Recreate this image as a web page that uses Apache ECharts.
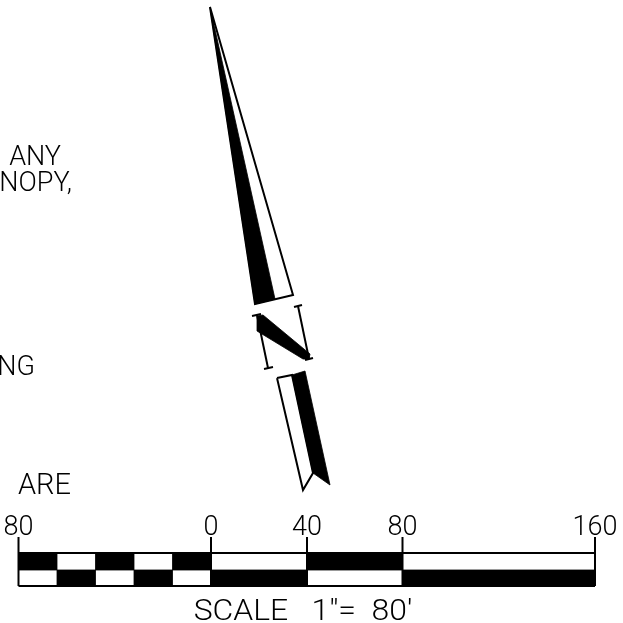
<!DOCTYPE html>
<html><head><meta charset="utf-8">
<style>html,body{margin:0;padding:0;background:#fff}#c{width:623px;height:623px}</style>
<script src="https://cdn.jsdelivr.net/npm/echarts@6/dist/echarts.min.js"></script>
</head><body><div id="c"></div>
<script>
// Drawing-space polygons and lines (x, y)
const blackShapes = [
  [[210,7],[275,299],[255,304]],
  [[292,375],[305,371],[330,485],[313,473]],
  [[257,316],[263,315],[310,354],[309,359],[303,359],[257,331]]
];
const outlines = [
  [[210,7],[293,295],[255,304],[210,7]],
  [[277,378],[292,375],[313,473],[303,490],[277,378]]
];
const thinLines = [
  [[257,315],[268,368]],[[252,316],[261,314]],[[264,369],[273,367]],
  [[298,306],[309,359]],[[294,307],[302,305]],[[305,360],[313,358]]
];
const barTop = 553, barMid = 570, barBottom = 586;
const tickTop = 537;
const scaleStops = [18.5,57,95.5,134,172.5,211,307,402.5,595];
const topRowBlack = [0,2,4,6];
const bottomRowBlack = [1,3,5,7];
const majorTicks = [18.5,211,307,402.5,595];
const tickLabels = ['80','0','40','80','160'];
const scaleTitle = 'SCALE   1"=  80\'';
const noteTexts = [
  ['ANY',61,158,'right',27],['NOPY,',72,184,'right',27],['NG',35,368,'right',27],['ARE',71,487,'right',29]
];

const segs = [];
thinLines.forEach(l=>segs.push(l));
outlines.forEach(l=>segs.push(l));
majorTicks.forEach(x=>segs.push([[x,tickTop],[x,barBottom]]));
segs.push([[18.5,barTop],[595,barTop]]);
segs.push([[18.5,barBottom],[595,barBottom]]);

const cells = [];
topRowBlack.forEach(i=>cells.push([[scaleStops[i],barTop],[scaleStops[i+1],barTop],[scaleStops[i+1],barMid],[scaleStops[i],barMid]]));
bottomRowBlack.forEach(i=>cells.push([[scaleStops[i],barMid],[scaleStops[i+1],barMid],[scaleStops[i+1],barBottom],[scaleStops[i],barBottom]]));

const font = 'Roboto';
const texts = noteTexts.map(t=>({t:t[0],x:t[1],y:t[2],a:t[3],s:t[4],k:1}));
tickLabels.forEach((t,i)=>{
  texts.push({t,x:majorTicks[i],y:528,a:'center',s:27,k:1});
});
texts.push({t:scaleTitle,x:303,y:613,a:'center',s:29,k:1.1});

const polys = blackShapes.concat(cells);
const chart = echarts.init(document.getElementById('c'),null,{renderer:'canvas'});
chart.setOption({
  animation:false,
  backgroundColor:'#fff',
  grid:{left:0,right:0,top:0,bottom:0},
  xAxis:{type:'value',min:0,max:623,show:false},
  yAxis:{type:'value',min:0,max:623,inverse:true,show:false},
  series:[
    {type:'custom',coordinateSystem:'cartesian2d',data:polys.map((p,i)=>[i]),encode:{x:0},
     renderItem:(ctx,api)=>({type:'polygon',shape:{points:polys[api.value(0)].map(p=>api.coord(p))},style:{fill:'#000',stroke:'#000',lineWidth:0.8}}),silent:true},
    {type:'custom',coordinateSystem:'cartesian2d',data:segs.map((p,i)=>[i]),encode:{x:0},
     renderItem:(ctx,api)=>({type:'polyline',shape:{points:segs[api.value(0)].map(p=>api.coord(p))},style:{fill:null,stroke:'#000',lineWidth:2}}),silent:true},
    {type:'custom',coordinateSystem:'cartesian2d',data:texts.map((p,i)=>[i]),encode:{x:0},
     renderItem:(ctx,api)=>{const t=texts[api.value(0)];const c=api.coord([t.x,t.y]);
       return {type:'text',x:c[0],y:c[1],scaleX:t.k,style:{text:t.t,fill:'#000',font:'300 '+t.s+'px '+font,align:t.a,verticalAlign:'middle'}};},silent:true}
  ]
});
</script></body></html>
